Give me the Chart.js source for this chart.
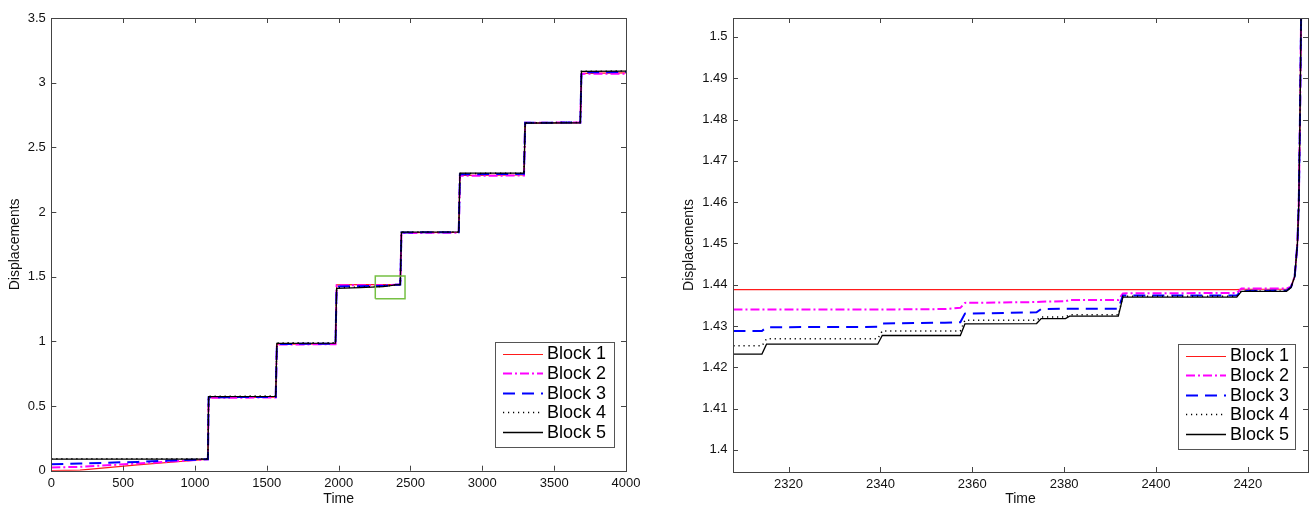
<!DOCTYPE html>
<html>
<head>
<meta charset="utf-8">
<script src="https://cdn.jsdelivr.net/npm/chart.js@4.4.1/dist/chart.umd.min.js"></script>
<style>
  body { margin: 0; background: #fff; width: 1310px; height: 506px; overflow: hidden; position: relative; }
  .panel { position: absolute; top: 0; }
  #leftPanel { left: 0; }
  #rightPanel { left: 660px; }
</style>
</head>
<body>
<div class="panel" id="leftPanel"><canvas id="fullChart" width="655" height="506"></canvas></div>
<div class="panel" id="rightPanel"><canvas id="zoomChart" width="650" height="506"></canvas></div>
<script>
const blockLabels = ['Block 1', 'Block 2', 'Block 3', 'Block 4', 'Block 5'];

// whole run, every block sampled at the same times
const fullTime = [0, 200, 600, 1090, 1095, 1562, 1570, 1978, 1986, 2150, 2310, 2360, 2395, 2420, 2429, 2437, 2836, 2844, 3290, 3298, 3682, 3690, 4000];
const fullBlock1 = [0, 0.004, 0.045, 0.088, 0.565, 0.568, 0.978, 0.981, 1.437, 1.4385, 1.4388, 1.4388, 1.4388, 1.4388, 1.4392, 1.840, 1.843, 2.283, 2.286, 2.688, 2.690, 3.072, 3.075];
const fullBlock2 = [0.025, 0.030, 0.055, 0.088, 0.563, 0.566, 0.975, 0.978, 1.433, 1.434, 1.434, 1.4356, 1.4379, 1.4391, 1.4392, 1.838, 1.840, 2.280, 2.282, 2.690, 2.692, 3.068, 3.070];
const fullBlock3 = [0.050, 0.056, 0.068, 0.089, 0.568, 0.570, 0.980, 0.982, 1.424, 1.4265, 1.4288, 1.4330, 1.4374, 1.4385, 1.4392, 1.842, 1.844, 2.292, 2.295, 2.690, 2.692, 3.080, 3.082];
const fullBlock4 = [0.093, 0.093, 0.093, 0.093, 0.576, 0.577, 0.988, 0.990, 1.414, 1.420, 1.4252, 1.4314, 1.4372, 1.4385, 1.4392, 1.845, 1.846, 2.298, 2.300, 2.690, 2.692, 3.088, 3.090];
const fullBlock5 = [0.090, 0.090, 0.090, 0.090, 0.572, 0.574, 0.985, 0.986, 1.410, 1.416, 1.4232, 1.4305, 1.4370, 1.4384, 1.4392, 1.845, 1.846, 2.300, 2.301, 2.688, 2.690, 3.088, 3.090];

// zoomed window 2308..2433
const zoomTime = [2308, 2314.2, 2315.2, 2339.4, 2340.4, 2354, 2357.4, 2358.4, 2374, 2375, 2380.3, 2381.2, 2391.8, 2392.8, 2417.6, 2418.6, 2428.4, 2429.4, 2430.2, 2430.8, 2431.1, 2431.35, 2431.6, 2432.2];
const zoomBlock1 = [1.4388, 1.4388, 1.4388, 1.4388, 1.4388, 1.4388, 1.4388, 1.4388, 1.4388, 1.4388, 1.4388, 1.4388, 1.4388, 1.4388, 1.4388, 1.4389, 1.4389, 1.4395, 1.442, 1.450, 1.460, 1.480, 1.505, 1.560];
const zoomBlock2 = [1.4340, 1.4340, 1.4340, 1.4340, 1.4340, 1.4341, 1.4344, 1.4356, 1.4358, 1.4359, 1.4360, 1.4363, 1.4363, 1.4379, 1.4380, 1.4391, 1.4391, 1.4395, 1.442, 1.450, 1.460, 1.480, 1.505, 1.560];
const zoomBlock3 = [1.4288, 1.4288, 1.4297, 1.4298, 1.4306, 1.4308, 1.4309, 1.4330, 1.4333, 1.4341, 1.4342, 1.4342, 1.4342, 1.4374, 1.4374, 1.4385, 1.4386, 1.4394, 1.442, 1.450, 1.460, 1.480, 1.505, 1.560];
const zoomBlock4 = [1.4252, 1.4252, 1.4269, 1.4269, 1.4288, 1.4288, 1.4288, 1.4314, 1.4314, 1.4322, 1.4322, 1.4327, 1.4327, 1.4372, 1.4372, 1.4385, 1.4385, 1.4394, 1.442, 1.450, 1.460, 1.480, 1.505, 1.560];
const zoomBlock5 = [1.4232, 1.4232, 1.4256, 1.4256, 1.4277, 1.4277, 1.4277, 1.4305, 1.4306, 1.4318, 1.4318, 1.4324, 1.4324, 1.4370, 1.4370, 1.4384, 1.4384, 1.4393, 1.442, 1.450, 1.460, 1.480, 1.505, 1.560];

// green frame marking the zoomed region on the full plot
const frameTime = [2255, 2462, 2462, 2255, 2255];
const frameDisp = [1.33, 1.33, 1.505, 1.505, 1.33];

const styles = [
  { borderColor: '#ff1a1a', borderWidth: 1.2, borderDash: [] },
  { borderColor: '#ff00ff', borderWidth: 2, borderDash: [9, 3, 2, 3] },
  { borderColor: '#0000ff', borderWidth: 2, borderDash: [12, 7] },
  { borderColor: '#000000', borderWidth: 1.5, borderDash: [1.2, 3.8] },
  { borderColor: '#000000', borderWidth: 1.3, borderDash: [] },
];

const FONT = '"Liberation Sans", Arial, Helvetica, sans-serif';
Chart.defaults.font.family = FONT;
Chart.defaults.color = '#111';

const toPoints = (xs, ys) => xs.map((x, i) => ({ x, y: ys[i] }));

const blockSets = (time, series) => series.map((vals, i) => ({
  label: blockLabels[i],
  data: toPoints(time, vals),
  borderColor: styles[i].borderColor,
  borderWidth: styles[i].borderWidth,
  borderDash: styles[i].borderDash,
  pointRadius: 0,
  tension: 0,
  fill: false,
  order: 5 - i,
}));

// matlab style frame with inward ticks on all four sides
const axesBox = {
  id: 'axesBox',
  afterDatasetsDraw(chart) {
    const { ctx, chartArea: a, scales } = chart;
    const len = 5;
    ctx.save();
    ctx.strokeStyle = '#444';
    ctx.lineWidth = 1;
    ctx.setLineDash([]);
    ctx.beginPath();
    scales.x.ticks.forEach(t => {
      const px = Math.round(scales.x.getPixelForValue(t.value)) + 0.5;
      ctx.moveTo(px, a.bottom); ctx.lineTo(px, a.bottom - len);
      ctx.moveTo(px, a.top); ctx.lineTo(px, a.top + len);
    });
    scales.y.ticks.forEach(t => {
      const py = Math.round(scales.y.getPixelForValue(t.value)) + 0.5;
      ctx.moveTo(a.left, py); ctx.lineTo(a.left + len, py);
      ctx.moveTo(a.right, py); ctx.lineTo(a.right - len, py);
    });
    ctx.stroke();
    ctx.strokeRect(Math.round(a.left) + 0.5, Math.round(a.top) + 0.5,
      Math.round(a.right - a.left), Math.round(a.bottom - a.top));
    ctx.restore();
  }
};

// legend box in the lower right of the plot area
const boxLegend = {
  id: 'boxLegend',
  afterDatasetsDraw(chart, args, opts) {
    const { ctx, chartArea: a } = chart;
    const x0 = Math.round(a.right - opts.right - opts.width);
    const y0 = Math.round(a.bottom - opts.bottom - opts.height);
    ctx.save();
    ctx.fillStyle = '#fff';
    ctx.fillRect(x0, y0, opts.width, opts.height);
    ctx.strokeStyle = '#555';
    ctx.lineWidth = 1;
    ctx.strokeRect(x0 + 0.5, y0 + 0.5, opts.width, opts.height);
    const items = chart.data.datasets.filter(d => blockLabels.includes(d.label));
    ctx.font = '18px ' + FONT;
    ctx.textBaseline = 'middle';
    items.forEach((d, i) => {
      const cy = y0 + 11.5 + i * 19.6;
      ctx.beginPath();
      ctx.setLineDash(d.borderDash);
      ctx.strokeStyle = d.borderColor;
      ctx.lineWidth = d.borderWidth;
      ctx.moveTo(x0 + 8, Math.round(cy) + 0.5);
      ctx.lineTo(x0 + 48, Math.round(cy) + 0.5);
      ctx.stroke();
      ctx.setLineDash([]);
      ctx.fillStyle = '#000';
      ctx.fillText(d.label, x0 + 52, cy + 1);
    });
    ctx.restore();
  }
};

const trim = v => String(Math.round(v * 100) / 100);

function makeChart(canvasId, datasets, cfg) {
  return new Chart(document.getElementById(canvasId), {
    type: 'line',
    data: { datasets },
    plugins: [axesBox, boxLegend],
    options: {
      responsive: false,
      animation: false,
      layout: { padding: { top: 18, right: cfg.padRight, bottom: 0, left: 0 } },
      plugins: {
        legend: { display: false },
        tooltip: { enabled: false },
        boxLegend: { width: cfg.legendW, height: 105, right: cfg.legendRight, bottom: 23.4 },
      },
      scales: {
        x: {
          type: 'linear',
          min: cfg.xMin, max: cfg.xMax,
          grid: { display: false, drawTicks: false },
          border: { display: false },
          ticks: { stepSize: cfg.xStep, includeBounds: false, padding: 5, font: { size: 13 }, maxRotation: 0, callback: v => String(v) },
          title: { display: true, text: 'Time', font: { size: 14, lineHeight: 1.0 }, padding: { top: 0, bottom: 0 } },
          afterFit: s => { s.height = cfg.xAxisH; },
        },
        y: {
          min: cfg.yMin, max: cfg.yMax,
          grid: { display: false, drawTicks: false },
          border: { display: false },
          ticks: { stepSize: cfg.yStep, includeBounds: false, padding: 5.5, font: { size: 13 }, callback: trim },
          title: { display: true, text: 'Displacements', font: { size: 14, lineHeight: 1.0 }, padding: { top: cfg.yTitlePad, bottom: 0 } },
          afterFit: s => { s.width = cfg.yAxisW; },
        },
      },
    },
  });
}

const fullSets = blockSets(fullTime, [fullBlock1, fullBlock2, fullBlock3, fullBlock4, fullBlock5]);
fullSets.push({
  label: 'zoom frame',
  data: toPoints(frameTime, frameDisp),
  borderColor: '#76c043',
  borderWidth: 1.5,
  pointRadius: 0,
  tension: 0,
  fill: false,
  order: 0,
});

makeChart('fullChart', fullSets, {
  xMin: 0, xMax: 4000, xStep: 500,
  yMin: 0, yMax: 3.5, yStep: 0.5,
  padRight: 29, xAxisH: 35.3, yAxisW: 51.3, yTitlePad: 8,
  legendW: 119, legendRight: 12,
});

makeChart('zoomChart', blockSets(zoomTime, [zoomBlock1, zoomBlock2, zoomBlock3, zoomBlock4, zoomBlock5]), {
  xMin: 2307.9, xMax: 2433.1, xStep: 20,
  yMin: 1.39465, yMax: 1.50458, yStep: 0.01,
  padRight: 2, xAxisH: 34, yAxisW: 73, yTitlePad: 22,
  legendW: 117, legendRight: 13,
});
</script>
</body>
</html>
